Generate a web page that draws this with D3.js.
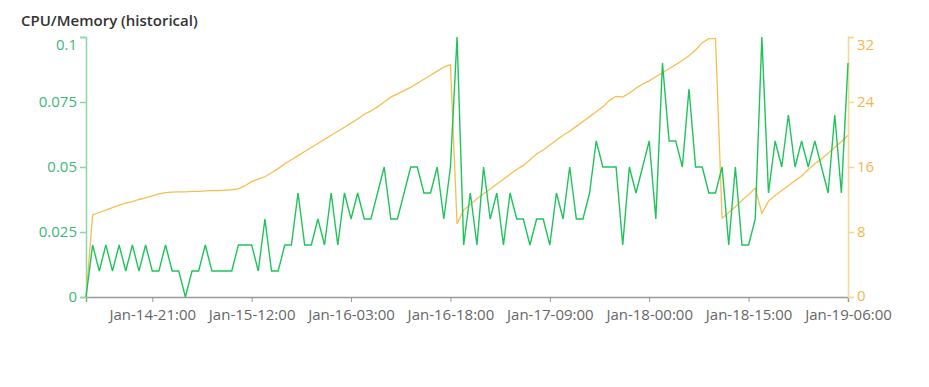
<!DOCTYPE html>
<html>
<head>
<meta charset="utf-8">
<script src="https://cdn.jsdelivr.net/npm/d3@7"></script>
<style>
  body { margin: 0; background: #fff; font-family: "Open Sans", "Noto Sans", sans-serif; }
  #chart { position: relative; width: 929px; height: 387px; }
</style>
</head>
<body>
<div id="chart"></div>
<script>
let w = 929
let h = 387
let margin = { top: 37, right: 81, bottom: 90, left: 86 }

// hourly samples, Jan-14-11:00 .. Jan-19-06:00
let startTime = new Date(2024, 0, 14, 11)
let endTime = new Date(2024, 0, 19, 6)
let times = d3.timeHour.range(startTime, d3.timeHour.offset(endTime, 1))

let tickLabels = ["Jan-14-21:00", "Jan-15-12:00", "Jan-16-03:00", "Jan-16-18:00",
  "Jan-17-09:00", "Jan-18-00:00", "Jan-18-15:00", "Jan-19-06:00"]
let cpuTicks = [0, 0.025, 0.05, 0.075, 0.1]
let memTicks = [0, 8, 16, 24, 32]

let cpu = [
  0, .02, .01, .02, .01, .02, .01, .02, .01, .02,
  .01, .01, .02, .01, .01, 0, .01, .01, .02, .01,
  .01, .01, .01, .02, .02, .02, .01, .03, .01, .01,
  .02, .02, .04, .02, .02, .03, .02, .04, .02, .04,
  .03, .04, .03, .03, .04, .05, .03, .03, .04, .05,
  .05, .04, .04, .05, .03, .05, .1, .02, .04, .02,
  .05, .03, .04, .02, .04, .03, .03, .02, .03, .03,
  .02, .04, .03, .05, .03, .03, .04, .06, .05, .05,
  .05, .02, .05, .04, .05, .06, .03, .09, .06, .06,
  .05, .08, .05, .05, .04, .04, .05, .02, .05, .02,
  .02, .03, .1, .04, .06, .05, .07, .05, .06, .05,
  .06, .05, .04, .07, .04, .09
]

let mem = [
  0, 10.1, 10.4, 10.7, 11.0, 11.3, 11.55, 11.75, 12.0, 12.2,
  12.45, 12.7, 12.85, 12.9, 12.95, 12.95, 13.0, 13.0, 13.05, 13.1,
  13.1, 13.15, 13.2, 13.3, 13.7, 14.2, 14.5, 14.8, 15.3, 15.8,
  16.4, 16.9, 17.4, 17.9, 18.4, 18.9, 19.4, 19.9, 20.4, 20.9,
  21.4, 21.9, 22.5, 22.9, 23.4, 24.0, 24.6, 25.0, 25.4, 25.8,
  26.3, 26.8, 27.3, 27.8, 28.3, 28.6, 9.0, 10.7, 11.4, 12.1,
  12.7, 13.3, 13.9, 14.5, 15.1, 15.7, 16.2, 16.9, 17.6, 18.1,
  18.7, 19.3, 19.9, 20.4, 21.0, 21.6, 22.2, 22.8, 23.4, 24.2,
  24.7, 24.6, 25.1, 25.7, 26.2, 26.6, 27.1, 27.6, 28.1, 28.6,
  29.1, 29.7, 30.4, 31.3, 31.8, 31.8, 9.7, 10.4, 11.1, 11.9,
  12.6, 13.4, 10.3, 11.8, 12.5, 13.1, 13.7, 14.3, 14.9, 15.7,
  16.4, 17.0, 17.7, 18.4, 19.1, 19.9
]

let dataset = times.map((t, i) => ({ date: t, cpu: cpu[i], mem: mem[i] }))
let parseTick = d3.timeParse("%b-%d-%H:%M")
let fmtTick = d3.timeFormat("%b-%d-%H:%M")
let tickDates = tickLabels.map(s => {
  let d = parseTick(s)
  d.setFullYear(2024)
  return d
})

let svg = d3.select("#chart")
  .append("svg")
  .attr("width", w)
  .attr("height", h)

svg.append("text")
  .attr("x", 21)
  .attr("y", 26)
  .attr("fill", "#333")
  .attr("font-size", 15)
  .attr("font-weight", 600)
  .text("CPU/Memory (historical)")

let x = d3.scaleTime()
  .domain([startTime, endTime])
  .range([margin.left, w - margin.right])

let yCpu = d3.scaleLinear()
  .domain([0, 0.1])
  .range([h - margin.bottom, margin.top])

let yMem = d3.scaleLinear()
  .domain([0, 32])
  .range([h - margin.bottom, margin.top])

// x axis
let gx = svg.append("g")
  .attr("transform", `translate(0,${h - margin.bottom})`)
  .call(d3.axisBottom(x).tickValues(tickDates).tickFormat(fmtTick).tickSizeOuter(0).tickSize(5).tickPadding(7))
gx.select(".domain").attr("stroke", "#999").attr("stroke-width", 1.5)
gx.selectAll(".tick line").attr("stroke", "#999")
gx.selectAll(".tick text").attr("fill", "#666").attr("font-size", 15).attr("font-family", "Open Sans")

// left axis (cpu)
let gl = svg.append("g")
  .attr("transform", `translate(${margin.left},0)`)
  .call(d3.axisLeft(yCpu).tickValues(cpuTicks).tickFormat(d => String(d)).tickSizeOuter(0).tickSize(6).tickPadding(3))
gl.select(".domain").attr("stroke", "#8ad8a8").attr("stroke-width", 1.5)
gl.selectAll(".tick line").attr("stroke", "#8ad8a8").attr("stroke-width", 1.5)
gl.selectAll(".tick text").attr("fill", "#3cb878").attr("font-size", 15).attr("font-family", "Open Sans")
gl.selectAll(".tick text").filter(d => d === 0.1).attr("dy", "0.85em")

// right axis (memory)
let gr = svg.append("g")
  .attr("transform", `translate(${w - margin.right},0)`)
  .call(d3.axisRight(yMem).tickValues(memTicks).tickSizeOuter(0).tickSize(6).tickPadding(3))
gr.select(".domain").attr("stroke", "#f8d592").attr("stroke-width", 1.5)
gr.selectAll(".tick line").attr("stroke", "#f8d592").attr("stroke-width", 1.5)
gr.selectAll(".tick text").attr("fill", "#f2b64e").attr("font-size", 15).attr("font-family", "Open Sans")
gr.selectAll(".tick text").filter(d => d === 32).attr("dy", "0.85em")
gr.selectAll(".tick text").filter(d => d === 0).attr("dy", "0.2em")

// lines
let memLine = d3.line()
  .x(d => x(d.date))
  .y(d => yMem(d.mem))

let cpuLine = d3.line()
  .x(d => x(d.date))
  .y(d => yCpu(d.cpu))

svg.append("path")
  .datum(dataset)
  .attr("fill", "none")
  .attr("stroke", "#f5bf4f")
  .attr("stroke-width", 1.3)
  .attr("d", memLine)

svg.append("path")
  .datum(dataset)
  .attr("fill", "none")
  .attr("stroke", "#1fc35b")
  .attr("stroke-width", 1.4)
  .attr("d", cpuLine)
</script>
</body>
</html>
